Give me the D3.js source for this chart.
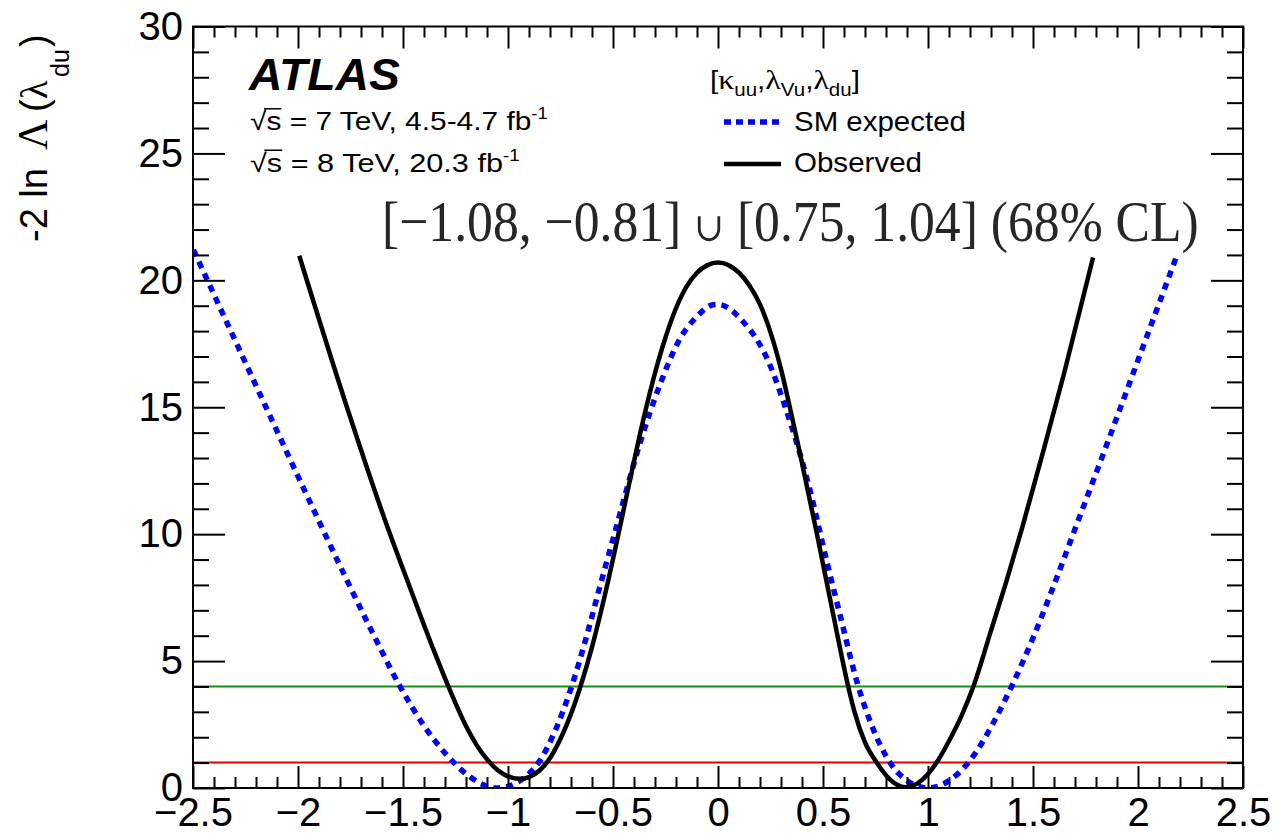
<!DOCTYPE html>
<html>
<head>
<meta charset="utf-8">
<script src="https://cdn.jsdelivr.net/npm/d3@7"></script>
<style>
  html, body { margin: 0; padding: 0; background: #fff; }
  svg { display: block; }
</style>
</head>
<body>
<svg id="chart" width="1280" height="834"></svg>
<script>
// Axis ticks
const xTicks = [-2.5, -2, -1.5, -1, -0.5, 0, 0.5, 1, 1.5, 2, 2.5];
const yTicks = [0, 5, 10, 15, 20, 25, 30];

// Observed profile likelihood scan, -2 ln Λ vs λ_du
const obsX = [-1.994, -1.768, -1.586, -1.467, -1.35, -1.284, -1.25, -1.2, -1.15, -1.1, -1.05, -1.0, -0.945,
  -0.9, -0.85, -0.808, -0.75, -0.7, -0.657, -0.6, -0.54, -0.482, -0.42, -0.356, -0.3, -0.25, -0.2, -0.15,
  -0.1, -0.05, 0.0, 0.05, 0.1, 0.152, 0.2, 0.25, 0.3, 0.35, 0.39, 0.47, 0.549, 0.62, 0.65, 0.7, 0.756,
  0.8, 0.85, 0.895, 0.95, 1.0, 1.041, 1.1, 1.16, 1.216, 1.3, 1.37, 1.45, 1.55, 1.65, 1.786];
const obsY = [20.97, 15.03, 10.56, 7.9, 5.35, 4.0, 3.34, 2.44, 1.7, 1.13, 0.71, 0.46, 0.36,
  0.43, 0.69, 1.08, 1.94, 2.92, 3.95, 5.55, 7.55, 9.7, 12.1, 14.5, 16.35, 17.75, 18.9, 19.75,
  20.3, 20.6, 20.7, 20.6, 20.3, 19.77, 19.05, 17.95, 16.5, 14.7, 13.2, 10.05, 6.82, 4.0, 3.0, 1.8, 1.0,
  0.5, 0.14, 0.03, 0.18, 0.55, 1.0, 1.85, 2.85, 4.0, 6.2, 8.05, 10.3, 13.3, 16.4, 20.9];

// SM expected scan
const expX = [-2.498, -2.197, -1.903, -1.768, -1.65, -1.514, -1.4, -1.292, -1.2, -1.118, -1.05, -1.0,
  -0.95, -0.9, -0.855, -0.78, -0.697, -0.625, -0.562, -0.49, -0.371, -0.276, -0.181, -0.101, -0.022, 0.0,
  0.121, 0.232, 0.327, 0.438, 0.518, 0.581, 0.668, 0.74, 0.819, 0.9, 0.95, 1.0, 1.05, 1.1, 1.192, 1.232,
  1.31, 1.398, 1.502, 1.6, 1.7, 1.85, 2.0, 2.186];
const expY = [21.2, 15.8, 10.56, 8.2, 6.2, 4.0, 2.45, 1.3, 0.56, 0.13, 0.0, 0.06,
  0.25, 0.56, 1.0, 2.17, 4.0, 6.0, 7.95, 10.1, 13.6, 15.9, 17.7, 18.57, 19.04, 19.05,
  18.36, 16.95, 14.84, 11.73, 8.93, 6.82, 4.0, 2.3, 1.0, 0.29, 0.07, 0.0, 0.07, 0.29, 1.0, 1.45,
  2.55, 4.0, 5.95, 8.0, 10.2, 13.5, 16.85, 21.0];

// Reference levels: 68% and 95% CL
const clLevels = [1, 4];

const sans = '"Liberation Sans", Arial, Helvetica, sans-serif';
const serif = '"Liberation Serif", "Times New Roman", Times, serif';

const svg = d3.select('#chart');
svg.append('rect').attr('width', 1280).attr('height', 834).attr('fill', '#fff');

const L = 193, R = 1243, T = 26.5, B = 788;
const x = d3.scaleLinear().domain([xTicks[0], xTicks[xTicks.length - 1]]).range([L, R]);
const y = d3.scaleLinear().domain([yTicks[0], yTicks[yTicks.length - 1]]).range([B, T]);

const defs = svg.append('defs');
defs.append('clipPath').attr('id', 'plotclip')
  .append('rect').attr('x', L).attr('y', T).attr('width', R - L).attr('height', B - T);
defs.append('filter').attr('id', 'soft')
  .append('feGaussianBlur').attr('stdDeviation', 0.5);

const plot = svg.append('g').attr('clip-path', 'url(#plotclip)');

// CL reference lines
const clColors = ['#e60000', '#0a9a0a'];
plot.selectAll('line.cl').data(clLevels).join('line')
  .attr('class', 'cl')
  .attr('x1', L).attr('x2', R)
  .attr('y1', d => y(d)).attr('y2', d => y(d))
  .attr('stroke', (d, i) => clColors[i])
  .attr('stroke-width', 2);

const line = d3.line().x(d => x(d[0])).y(d => y(d[1])).curve(d3.curveMonotoneX);

plot.append('path')
  .datum(d3.zip(expX, expY))
  .attr('d', line)
  .attr('fill', 'none')
  .attr('stroke', '#0000ff')
  .attr('stroke-width', 5.5)
  .attr('stroke-dasharray', '7,6');

plot.append('path')
  .datum(d3.zip(obsX, obsY))
  .attr('d', line)
  .attr('fill', 'none')
  .attr('stroke', '#000')
  .attr('stroke-width', 4.5);

// Axes with major and minor ticks on all four sides
const xMinor = d3.range(-25, 26).map(i => i / 10).filter(v => Math.abs(v * 2 - Math.round(v * 2)) > 1e-6);
const yMinor = d3.range(0, 31).filter(v => v % 5 !== 0);

function styleAxis(g) {
  g.select('.domain').remove();
  g.selectAll('.tick line').attr('stroke', '#000').attr('stroke-width', 2);
  g.selectAll('.tick text').attr('font-family', sans).attr('font-size', 40).attr('fill', '#000');
}

svg.append('g').attr('transform', `translate(0,${B})`)
  .call(d3.axisBottom(x).tickValues(xMinor).tickSize(-11).tickFormat(''))
  .call(styleAxis);
svg.append('g').attr('transform', `translate(0,${B})`)
  .call(d3.axisBottom(x).tickValues(xTicks).tickSize(-22).tickPadding(10).tickFormat(d3.format('')))
  .call(styleAxis);
svg.append('g').attr('transform', `translate(0,${T})`)
  .call(d3.axisTop(x).tickValues(xMinor).tickSize(-11).tickFormat(''))
  .call(styleAxis);
svg.append('g').attr('transform', `translate(0,${T})`)
  .call(d3.axisTop(x).tickValues(xTicks).tickSize(-22).tickFormat(''))
  .call(styleAxis);

svg.append('g').attr('transform', `translate(${L},0)`)
  .call(d3.axisLeft(y).tickValues(yMinor).tickSize(-16).tickFormat(''))
  .call(styleAxis);
svg.append('g').attr('transform', `translate(${L},0)`)
  .call(d3.axisLeft(y).tickValues(yTicks).tickSize(-32).tickPadding(10).tickFormat(d3.format('')))
  .call(styleAxis);
svg.append('g').attr('transform', `translate(${R},0)`)
  .call(d3.axisRight(y).tickValues(yMinor).tickSize(-16).tickFormat(''))
  .call(styleAxis);
svg.append('g').attr('transform', `translate(${R},0)`)
  .call(d3.axisRight(y).tickValues(yTicks).tickSize(-32).tickFormat(''))
  .call(styleAxis);

svg.append('rect')
  .attr('x', L).attr('y', T).attr('width', R - L).attr('height', B - T)
  .attr('fill', 'none').attr('stroke', '#000').attr('stroke-width', 2);

// Text helper: builds a text at the origin, then places it with its left edge at x0,
// baseline at y0 and horizontally fitted to the given width
function fitText(x0, y0, width, build) {
  const g = svg.append('g');
  const t = g.append('text').attr('x', 0).attr('y', 0);
  build(t);
  const bb = t.node().getBBox();
  const sx = width / bb.width;
  g.attr('transform', `translate(${x0},${y0}) scale(${sx},1) translate(${-bb.x},0)`);
  return { g, t };
}

// Y axis title (rotated), assembled piece by piece along the axis
const yt = svg.append('g').attr('transform', 'translate(47,0) rotate(-90)');
const ytPieces = [
  { s: '-2 ln', u: -242, f: sans, size: 38, v: 0 },
  { s: 'Λ', u: -150, f: serif, size: 42, v: 0 },
  { s: '(', u: -112, f: sans, size: 38, v: 0 },
  { s: 'λ', u: -99, f: serif, size: 38, v: 0 },
  { s: 'du', u: -77, f: sans, size: 25, v: 22 },
  { s: ')', u: -47, f: sans, size: 38, v: 0 }
];
ytPieces.forEach(p => {
  yt.append('text')
    .attr('x', p.u).attr('y', p.v)
    .attr('font-family', p.f).attr('font-size', p.size).attr('fill', '#000')
    .text(p.s);
});

// ATLAS label
fitText(248, 90, 152, t => t.attr('font-family', sans).attr('font-size', 45)
  .attr('font-weight', 'bold').attr('font-style', 'italic').text('ATLAS'));

// Centre-of-mass energy lines
function energyLine(y0, width, energy, lumi) {
  const r = fitText(250, y0, width, t => {
    t.attr('font-family', sans).attr('font-size', 26).attr('fill', '#000');
    t.append('tspan').text('√s = ' + energy + ' TeV, ' + lumi + ' fb');
    t.append('tspan').attr('font-size', 16).attr('dy', -11).text('-1');
  });
  const n = r.t.node();
  const e0 = n.getExtentOfChar(0), e1 = n.getExtentOfChar(1);
  r.g.append('line')
    .attr('x1', e0.x + e0.width * 0.85).attr('x2', e1.x + e1.width)
    .attr('y1', e0.y + 2).attr('y2', e0.y + 2)
    .attr('stroke', '#000').attr('stroke-width', 1.5);
}
energyLine(130, 298, '7', '4.5-4.7');
energyLine(172, 270, '8', '20.3');

// Legend
fitText(710, 89, 150, t => {
  t.attr('font-family', sans).attr('font-size', 26).attr('fill', '#000');
  const sub = (s) => { t.append('tspan').attr('font-size', 18).attr('dy', 7).text(s); };
  const back = (s) => { t.append('tspan').attr('dy', -7).text(s); };
  t.append('tspan').text('[');
  t.append('tspan').attr('font-family', serif).attr('font-size', 28).text('κ');
  sub('uu'); back(',');
  t.append('tspan').attr('font-family', serif).attr('font-size', 28).text('λ');
  sub('Vu'); back(',');
  t.append('tspan').attr('font-family', serif).attr('font-size', 28).text('λ');
  sub('du'); back(']');
});

svg.append('line').attr('x1', 724).attr('x2', 781).attr('y1', 122).attr('y2', 122)
  .attr('stroke', '#0000ff').attr('stroke-width', 5.5).attr('stroke-dasharray', '7,5');
svg.append('line').attr('x1', 724).attr('x2', 781).attr('y1', 164).attr('y2', 164)
  .attr('stroke', '#000').attr('stroke-width', 4.5);

fitText(794, 131, 172, t => t.attr('font-family', sans).attr('font-size', 28).attr('fill', '#000').text('SM expected'));
fitText(794, 172, 128, t => t.attr('font-family', sans).attr('font-size', 28).attr('fill', '#000').text('Observed'));

// Confidence intervals
fitText(382, 241, 817, t => {
  t.attr('font-family', serif).attr('font-size', 58).attr('fill', '#262626').attr('filter', 'url(#soft)');
  t.append('tspan').text('[−1.08, −0.81] ');
  t.append('tspan').attr('font-family', '"DejaVu Serif", serif').attr('font-size', 40).text('∪');
  t.append('tspan').text(' [0.75, 1.04] (68% CL)');
});
</script>
</body>
</html>
